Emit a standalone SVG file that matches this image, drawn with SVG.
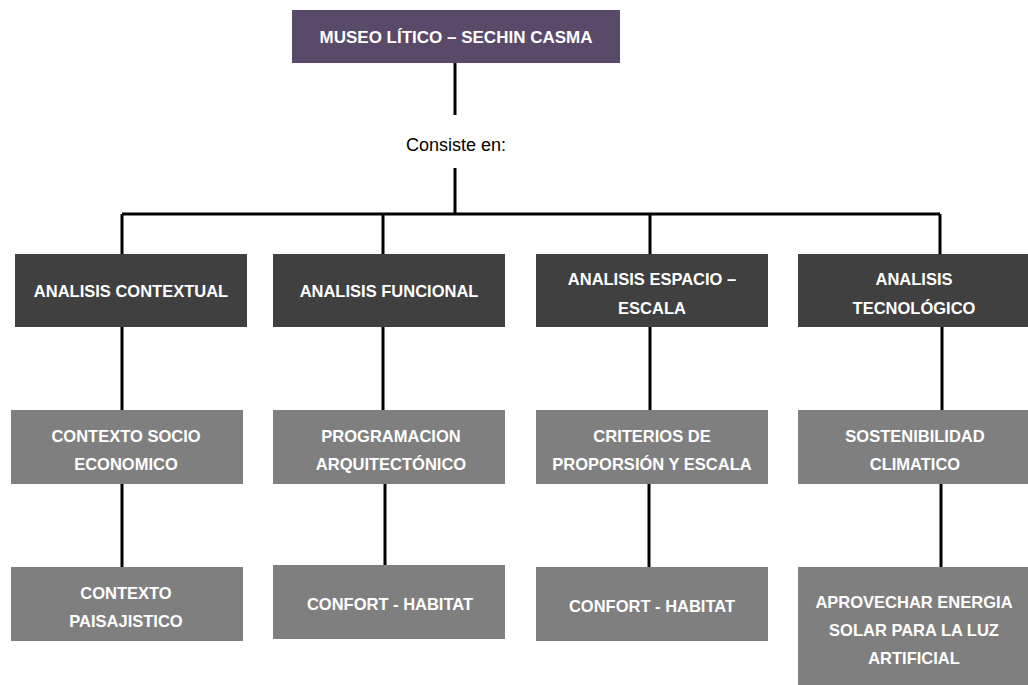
<svg xmlns="http://www.w3.org/2000/svg" width="1028" height="685" viewBox="0 0 1028 685">
<style>
.t{font-family:"Liberation Sans",Arial,sans-serif;font-weight:bold;font-size:16.5px;fill:#ffffff;text-anchor:middle}
.c{stroke:#000;stroke-width:3;fill:none}
.top{fill:#5a4a6a}
.dk{fill:#404040}
.gr{fill:#7f7f7f}
.lbl{font-family:"Liberation Sans",Arial,sans-serif;font-size:18px;fill:#000;text-anchor:middle}
</style>
<rect width="1028" height="685" fill="#fff"/>
<g id="connectors">
<path class="c" d="M455 63V115M455 168V214M122 214H940M122 214V254M383 214V254M650 214V254M940 214V254"/>
<path class="c" d="M122 327V410M383 327V410M650 327V410M942 327V410"/>
<path class="c" d="M122 484V567M385 484V565M649 482V567M941 480V567"/>
</g>
<g id="n-consiste"><text class="lbl" x="456" y="151">Consiste en:</text></g>
<g id="n-museo"><rect class="top" x="292" y="10" width="328" height="53"/><text class="t" x="456" y="43" style="font-size:17px">MUSEO LÍTICO – SECHIN CASMA</text></g>
<g id="n-contextual"><rect class="dk" x="15" y="254" width="232" height="73"/><text class="t" x="131" y="297">ANALISIS CONTEXTUAL</text></g>
<g id="n-funcional"><rect class="dk" x="273" y="254" width="232" height="73"/><text class="t" x="389" y="297">ANALISIS FUNCIONAL</text></g>
<g id="n-espacio"><rect class="dk" x="536" y="254" width="232" height="73"/><text class="t" x="652" y="285">ANALISIS ESPACIO –</text><text class="t" x="652" y="314">ESCALA</text></g>
<g id="n-tecno"><rect class="dk" x="798" y="254" width="232" height="73"/><text class="t" x="914" y="285">ANALISIS</text><text class="t" x="914" y="314">TECNOLÓGICO</text></g>
<g id="n-socio"><rect class="gr" x="11" y="410" width="232" height="74"/><text class="t" x="126" y="442">CONTEXTO SOCIO</text><text class="t" x="126" y="470">ECONOMICO</text></g>
<g id="n-prog"><rect class="gr" x="273" y="410" width="232" height="74"/><text class="t" x="391" y="442">PROGRAMACION</text><text class="t" x="391" y="470">ARQUITECTÓNICO</text></g>
<g id="n-criterios"><rect class="gr" x="536" y="410" width="232" height="74"/><text class="t" x="652" y="442">CRITERIOS DE</text><text class="t" x="652" y="470">PROPORSIÓN Y ESCALA</text></g>
<g id="n-sosten"><rect class="gr" x="798" y="410" width="232" height="74"/><text class="t" x="915" y="442">SOSTENIBILIDAD</text><text class="t" x="915" y="470">CLIMATICO</text></g>
<g id="n-paisaj"><rect class="gr" x="11" y="567" width="232" height="74"/><text class="t" x="126" y="599">CONTEXTO</text><text class="t" x="126" y="627">PAISAJISTICO</text></g>
<g id="n-confort1"><rect class="gr" x="273" y="565" width="232" height="74"/><text class="t" x="390" y="610">CONFORT - HABITAT</text></g>
<g id="n-confort2"><rect class="gr" x="536" y="567" width="232" height="74"/><text class="t" x="652" y="612">CONFORT - HABITAT</text></g>
<g id="n-solar"><rect class="gr" x="798" y="567" width="232" height="120"/><text class="t" x="914" y="608">APROVECHAR ENERGIA</text><text class="t" x="914" y="636">SOLAR PARA LA LUZ</text><text class="t" x="914" y="664">ARTIFICIAL</text></g>
</svg>
